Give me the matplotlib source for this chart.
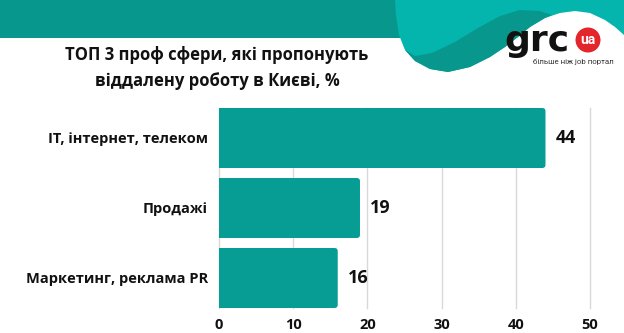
"""Horizontal bar chart: top 3 professional fields offering remote work in Kyiv."""

import matplotlib

matplotlib.use("Agg")

import matplotlib.pyplot as plt
from matplotlib.patches import Circle, FancyBboxPatch, Polygon, Rectangle

plt.rcParams["font.family"] = ["Open Sans", "DejaVu Sans"]

CATEGORIES = ["IT, інтернет, телеком", "Продажі", "Маркетинг, реклама PR"]
VALUES = [44, 19, 16]
XTICKS = [0, 10, 20, 30, 40, 50]
TITLE = "ТОП 3 проф сфери, які пропонують\nвіддалену роботу в Києві, %"

BAR_COLOR = "#079c94"
HEADER_DARK = "#08978d"
HEADER_LIGHT = "#03b5ad"

W, H = 624, 333
fig = plt.figure(figsize=(W / 100, H / 100), dpi=100)

# --- decorative header, drawn in pixel coordinates ---------------------------
deco = fig.add_axes([0, 0, 1, 1], zorder=0)
deco.set_xlim(0, W)
deco.set_ylim(H, 0)
deco.axis("off")

deco.add_patch(Rectangle((0, 0), 400, 38, color=HEADER_DARK, lw=0))

dome = [(624, 35), (615, 27), (605, 20), (590, 13), (575, 11), (560, 13),
        (545, 18), (530, 27), (518, 37)]
blob_bottom = [(505, 47), (490, 57), (470, 67), (448, 72), (430, 69),
               (415, 61), (405, 50), (399, 35), (396, 15), (395, 0)]
deco.add_patch(Polygon([(395, 0), (624, 0)] + dome + blob_bottom,
                       closed=True, color=HEADER_LIGHT, lw=0))

crescent_top = [(405, 50), (415, 56), (432, 53), (455, 42), (478, 28),
                (500, 16), (520, 10), (540, 11), (552, 15)]
crescent_low = [(545, 18), (530, 27), (518, 37)] + blob_bottom[:-3]
deco.add_patch(Polygon(crescent_top + crescent_low, closed=True,
                       color=HEADER_DARK, lw=0))

# logo
deco.text(504, 41, "grc", fontsize=26, fontweight="bold", color="#111111",
          ha="left", va="center", family=["DejaVu Sans"])
deco.add_patch(Circle((588, 40), 12.5, color="#e3262b", lw=0))
deco.text(588, 39.5, "ua", fontsize=10, fontweight="bold", color="white",
          ha="center", va="center", family=["Roboto", "DejaVu Sans"])
deco.text(573, 62, "більше ніж job портал", fontsize=5.7, color="#333333",
          ha="center", va="center", family=["Roboto", "DejaVu Sans"])

fig.text(217 / W, 1 - 68 / H, TITLE, ha="center", va="center",
         multialignment="center", fontsize=12, fontweight="bold",
         color="#111111", linespacing=1.6)

# --- bar chart -----------------------------------------------------------------
ax = fig.add_axes([219 / W, 25 / H, 371 / W, 200 / H], zorder=1)
ax.patch.set_alpha(0)

ypos = list(range(len(CATEGORIES)))
bar_h = 6 / 7
bars = ax.barh(ypos, VALUES, height=bar_h, color=BAR_COLOR, zorder=2)

ax.set_xlim(0, 50)
half = bar_h / 2
ax.set_ylim(len(CATEGORIES) - 1 + half, -half)

# swap the plain rectangles for ones with rounded right-hand corners
for rect in bars:
    rect.set_visible(False)
    x0, y0 = rect.get_x(), rect.get_y()
    w, h = rect.get_width(), rect.get_height()
    ax.add_patch(FancyBboxPatch((x0 - 1, y0), w + 1, h,
                                boxstyle="round,pad=0,rounding_size=0.45",
                                mutation_aspect=0.1, color=BAR_COLOR,
                                lw=0, zorder=2))

for y, v in zip(ypos, VALUES):
    ax.annotate(str(v), (v, y), xytext=(7.5, 0), textcoords="offset points",
                ha="left", va="center", fontsize=13, fontweight="bold",
                color="#111111")

ax.set_xticks(XTICKS)
ax.set_yticks(ypos)
ax.set_yticklabels(CATEGORIES)
ax.tick_params(axis="x", length=0, pad=7, labelsize=10.5, labelcolor="#111111")
ax.tick_params(axis="y", length=0, pad=8, labelsize=10.5, labelcolor="#111111")
for lab in ax.get_xticklabels() + ax.get_yticklabels():
    lab.set_fontweight("bold")

ax.grid(axis="x", color="#d9d9d9", lw=1, zorder=1)
for gl in ax.get_xgridlines():
    gl.set_clip_on(False)
for s in ax.spines.values():
    s.set_visible(False)

fig.savefig("out.png", dpi=100)
